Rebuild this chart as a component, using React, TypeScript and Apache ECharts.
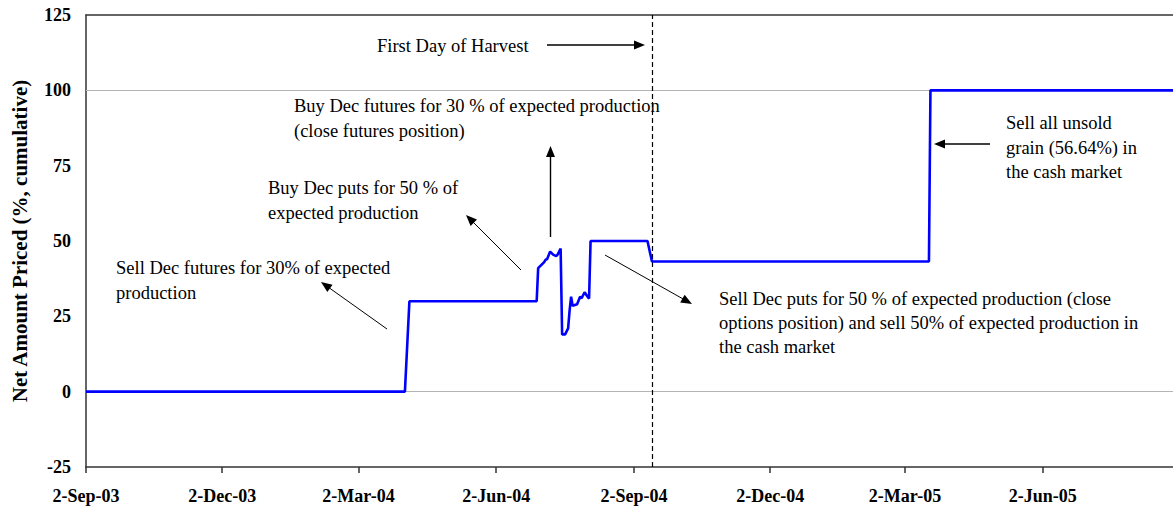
import React, { useEffect, useRef } from 'react';
import * as echarts from 'echarts';

// ---- Data ----
const dates = [
  '2003-09-02', '2004-04-02', '2004-04-05', '2004-06-29', '2004-06-30', '2004-07-04',
  '2004-07-05', '2004-07-06', '2004-07-08', '2004-07-10', '2004-07-12', '2004-07-13',
  '2004-07-15', '2004-07-16', '2004-07-18', '2004-07-20', '2004-07-21', '2004-07-22',
  '2004-07-23', '2004-07-26', '2004-07-28', '2004-07-29', '2004-07-31', '2004-08-02',
  '2004-08-03', '2004-08-04', '2004-09-11', '2004-09-14', '2005-03-18', '2005-03-19',
  '2005-08-28',
];
const netPriced = [
  0, 0, 30, 30, 41, 43,
  43.8, 44, 46.5, 45.5, 45, 45.5,
  47.5, 19, 19, 21, 27, 31.5,
  28.5, 29, 31.5, 31, 33, 31.5,
  30.9, 50, 50, 43.2, 43.2, 100,
  100,
];
const tickDates = ['2003-09-02', '2003-12-02', '2004-03-02', '2004-06-02', '2004-09-02', '2004-12-02', '2005-03-02', '2005-06-02'];
const axisStart = '2003-09-02';
const axisEnd = '2005-08-28';
const harvestDate = '2004-09-14';
const yMin = -25;
const yMax = 125;
const yStep = 25;
const refLines = [0, 100];
const MONTHS = ['Jan', 'Feb', 'Mar', 'Apr', 'May', 'Jun', 'Jul', 'Aug', 'Sep', 'Oct', 'Nov', 'Dec'];

const FONT = '"Liberation Serif", "Times New Roman", serif';

function toTime(s: string): number {
  const [y, m, d] = s.split('-').map(Number);
  return Date.UTC(y, m - 1, d);
}
function fmt(t: number): string {
  const d = new Date(t);
  return `${d.getUTCDate()}-${MONTHS[d.getUTCMonth()]}-${String(d.getUTCFullYear() % 100).padStart(2, '0')}`;
}

function arrow(x1: number, y1: number, x2: number, y2: number, w: number) {
  const dx = x2 - x1, dy = y2 - y1;
  const L = Math.hypot(dx, dy);
  const ux = dx / L, uy = dy / L;
  const hl = 11, hw = 4.5;
  const bx = x2 - ux * hl, by = y2 - uy * hl;
  return [
    { type: 'line', shape: { x1, y1, x2: bx + ux * 1, y2: by + uy * 1 }, style: { stroke: '#000', lineWidth: w } },
    {
      type: 'polygon',
      shape: { points: [[x2, y2], [bx - uy * hw, by + ux * hw], [bx + uy * hw, by - ux * hw]] },
      style: { fill: '#000' },
    },
  ];
}

function note(text: string, x: number, y: number) {
  return {
    type: 'text',
    x,
    y,
    style: { text, font: `18.5px ${FONT}`, fill: '#000', align: 'left', verticalAlign: 'middle' },
  };
}

export default function App() {
  const ref = useRef<HTMLDivElement>(null);
  useEffect(() => {
    if (!ref.current) return;
    const chart = echarts.init(ref.current, undefined, { renderer: 'svg' });
    const tickTimes = tickDates.map(toTime);
    const option: any = {
      animation: false,
      backgroundColor: '#fff',
      grid: { left: 86, right: 0, top: 15, bottom: 44, containLabel: false },
      xAxis: [
        {
          type: 'value',
          min: toTime(axisStart),
          max: toTime(axisEnd),
          axisLine: { show: true, onZero: false, lineStyle: { color: '#333', width: 1.5 } },
          axisTick: { show: true, customValues: tickTimes, length: 6, inside: false, lineStyle: { color: '#333', width: 1.5 } },
          axisLabel: {
            customValues: tickTimes,
            formatter: (v: number) => fmt(v),
            fontFamily: FONT,
            fontWeight: 'bold',
            fontSize: 18,
            color: '#000',
            margin: 20,
            hideOverlap: false,
          },
          splitLine: { show: false },
        },
        {
          type: 'value',
          position: 'top',
          min: toTime(axisStart),
          max: toTime(axisEnd),
          axisLine: { show: true, onZero: false, lineStyle: { color: '#333', width: 1.5 } },
          axisTick: { show: false },
          axisLabel: { show: false },
          splitLine: { show: false },
        },
      ],
      yAxis: {
        type: 'value',
        min: yMin,
        max: yMax,
        interval: yStep,
        name: 'Net Amount Priced (%, cumulative)',
        nameLocation: 'middle',
        nameGap: 56,
        nameTextStyle: { fontFamily: FONT, fontWeight: 'bold', fontSize: 21, color: '#000' },
        axisLine: { show: true, onZero: false, lineStyle: { color: '#333', width: 1.5 } },
        axisTick: { show: false },
        axisLabel: { fontFamily: FONT, fontWeight: 'bold', fontSize: 18, color: '#000', margin: 15 },
        splitLine: { show: false },
      },
      series: [
        {
          type: 'line',
          data: [],
          z: 1,
          silent: true,
          markLine: {
            z: 1,
            silent: true,
            symbol: ['none', 'none'],
            label: { show: false },
            animation: false,
            data: [
              ...refLines.map((v) => ({ yAxis: v, lineStyle: { color: '#b4b4b4', width: 1.2, type: 'solid' } })),
              { xAxis: toTime(harvestDate), lineStyle: { color: '#000', width: 1.2, type: [5, 3] } },
            ],
          },
        },
        {
          type: 'line',
          z: 3,
          data: dates.map((d, i) => [toTime(d), netPriced[i]]),
          showSymbol: false,
          symbol: 'none',
          lineStyle: { color: '#0000ff', width: 2.6 },
        },
      ],
      graphic: [
        note('First Day of Harvest', 377, 46),
        ...arrow(547, 45, 645, 45, 1.6),
        note('Buy Dec futures for 30 % of expected production', 294, 106),
        note('(close futures position)', 294, 131),
        ...arrow(550.5, 237, 550.5, 146, 1.4),
        note('Buy Dec puts for 50 % of', 268, 188),
        note('expected production', 268, 213),
        ...arrow(521, 270, 466, 215, 1),
        note('Sell Dec futures for 30% of expected', 116, 268),
        note('production', 116, 293),
        ...arrow(387, 329, 321, 282, 1),
        ...arrow(605, 255, 692, 304, 1),
        note('Sell Dec puts for 50 % of expected production (close', 719, 299),
        note('options position) and sell 50% of expected production in', 719, 323),
        note('the cash market', 719, 347),
        note('Sell all unsold', 1006, 123),
        note('grain (56.64%) in', 1006, 148),
        note('the cash market', 1006, 172),
        ...arrow(990, 144, 934, 144, 1.6),
      ],
    };
    chart.setOption(option);
    return () => chart.dispose();
  }, []);
  return <div ref={ref} style={{ position: 'absolute', left: 0, top: 0, width: 1173, height: 511 }} />;
}
